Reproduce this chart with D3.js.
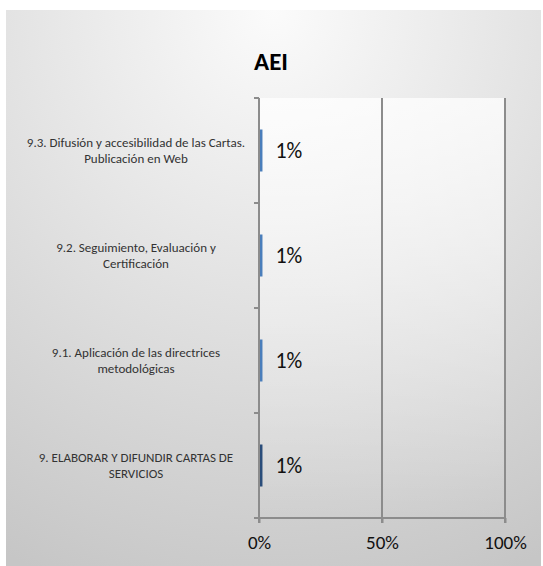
<!DOCTYPE html>
<html><head><meta charset="utf-8">
<script src="https://cdn.jsdelivr.net/npm/d3@7"></script>
<style>body{margin:0;background:#fff}svg{display:block;font-family:Carlito,Lato,"Liberation Sans",sans-serif}</style>
</head><body>
<svg id="c" width="543" height="566"></svg>
<script>
const title = "AEI";
const categories = [
  "9.3. Difusión y accesibilidad de las Cartas. Publicación en Web",
  "9.2. Seguimiento, Evaluación y Certificación",
  "9.1. Aplicación de las directrices metodológicas",
  "9. ELABORAR Y DIFUNDIR CARTAS DE SERVICIOS"
];
const categoryLines = [
  ["9.3. Difusión y accesibilidad de las Cartas.", "Publicación en Web"],
  ["9.2. Seguimiento, Evaluación y", "Certificación"],
  ["9.1. Aplicación de las directrices", "metodológicas"],
  ["9. ELABORAR Y DIFUNDIR CARTAS DE", "SERVICIOS"]
];
const values = [0.01, 0.01, 0.01, 0.01];
const valueLabels = ["1%", "1%", "1%", "1%"];
const barColors = ["#4a7ebb", "#4a7ebb", "#4a7ebb", "#2a4d7a"];
const xTicks = [0, 0.5, 1];

const svg = d3.select("#c");
const defs = svg.append("defs");
const rg = defs.append("radialGradient").attr("id","bg").attr("cx","50%").attr("cy","0%").attr("r","110%").attr("fx","50%").attr("fy","0%");
rg.append("stop").attr("offset","0%").attr("stop-color","#fbfbfb");
rg.append("stop").attr("offset","100%").attr("stop-color","#c6c6c6");
const pg = defs.append("linearGradient").attr("id","pg").attr("x1","0").attr("y1","0").attr("x2","0").attr("y2","1");
pg.append("stop").attr("offset","0%").attr("stop-color","#ffffff").attr("stop-opacity",0.75);
pg.append("stop").attr("offset","100%").attr("stop-color","#ffffff").attr("stop-opacity",0);

svg.append("rect").attr("x",6).attr("y",10).attr("width",535).attr("height",556).attr("fill","url(#bg)");

const m = {left:259, right:505, top:98, bottom:518};
const x = d3.scaleLinear().domain([0,1]).range([m.left, m.right]);
const y = d3.scaleBand().domain(categories).range([m.top, m.bottom]).paddingInner(0.6).paddingOuter(0.3);
const yb = d3.scaleBand().domain(categories).range([m.top, m.bottom]);

svg.append("rect").attr("x",m.left).attr("y",m.top).attr("width",m.right-m.left).attr("height",m.bottom-m.top).attr("fill","url(#pg)");

// gridlines
svg.append("g").selectAll("line").data(xTicks).join("line")
  .attr("x1",d=>x(d)).attr("x2",d=>x(d)).attr("y1",m.top).attr("y2",m.bottom+5)
  .attr("stroke","#8c8c8c").attr("stroke-width",2);

// x axis
const xa = svg.append("g").attr("transform",`translate(0,${m.bottom})`)
  .call(d3.axisBottom(x).tickValues(xTicks).tickFormat(d3.format(".0%")).tickSize(5).tickPadding(13));
xa.select(".domain").attr("stroke","#8c8c8c").attr("stroke-width",2).attr("d",`M${m.left-5},0H${m.right}`);
xa.selectAll(".tick line").attr("stroke","#8c8c8c").attr("stroke-width",2);
xa.selectAll("text").attr("font-size",19).attr("fill","#111").attr("font-family","Carlito,Lato,sans-serif");

// y axis ticks
const yTickPos = categories.map(c=>yb(c)).concat([m.bottom]);
svg.append("g").selectAll("line").data(yTickPos).join("line")
  .attr("x1",m.left-5).attr("x2",m.left).attr("y1",d=>d).attr("y2",d=>d)
  .attr("stroke","#8c8c8c").attr("stroke-width",2);

// bars
svg.append("g").selectAll("rect").data(categories).join("rect")
  .attr("x",x(0)+1).attr("y",d=>y(d)).attr("height",y.bandwidth())
  .attr("width",(d,i)=>Math.max(1,x(values[i])-x(0)))
  .attr("fill",(d,i)=>barColors[i]);

// y axis line
svg.append("line").attr("x1",m.left).attr("x2",m.left).attr("y1",m.top).attr("y2",m.bottom)
  .attr("stroke","#8c8c8c").attr("stroke-width",2);

// value labels
svg.append("g").selectAll("text").data(categories).join("text")
  .attr("x",(d,i)=>x(values[i])+14).attr("y",d=>y(d)+y.bandwidth()/2).attr("dy","0.35em")
  .attr("font-size",22).attr("fill","#111").text((d,i)=>valueLabels[i]);

// category labels
const labelCx = 136;
categories.forEach((c,ci)=>{
  const lines = categoryLines[ci];
  const t = svg.append("text").attr("x",labelCx).attr("text-anchor","middle").attr("font-size",13).attr("fill","#333");
  const cy = yb(c)+yb.bandwidth()/2;
  const lh = 15.5;
  lines.forEach((l,i)=>{
    t.append("tspan").attr("x",labelCx).attr("y",cy+(i-(lines.length-1)/2)*lh).attr("dy","0.35em").text(l);
  });
});

// title
svg.append("text").attr("x",271).attr("y",61).attr("dy","0.35em").attr("text-anchor","middle")
  .attr("font-size",25).attr("font-weight","bold").attr("fill","#000").text(title);
</script>
</body></html>
